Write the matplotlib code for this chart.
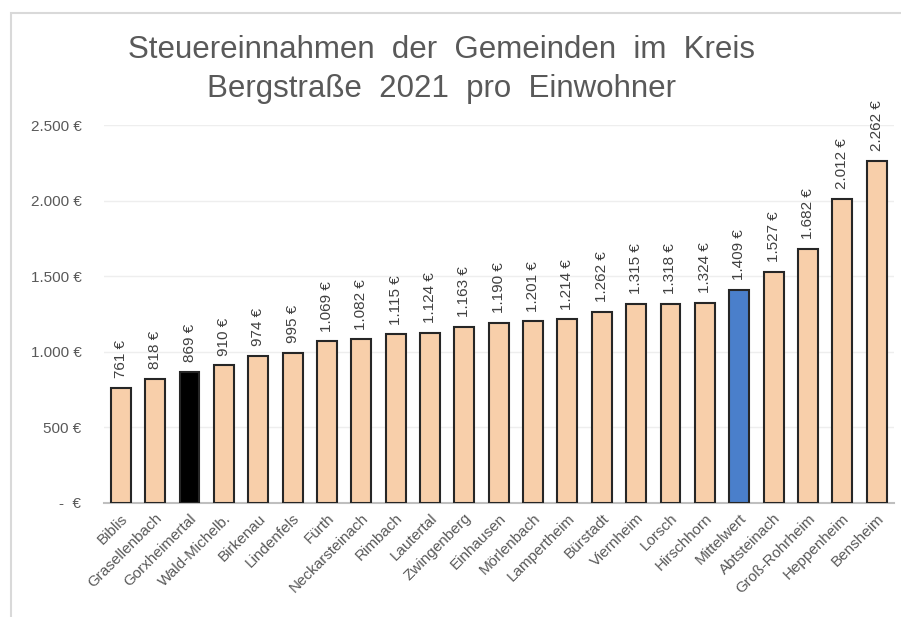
import matplotlib.pyplot as plt
from matplotlib.patches import Rectangle

# Steuereinnahmen pro Einwohner 2021
gemeinden = ['Biblis', 'Grasellenbach', 'Gorxheimertal', 'Wald-Michelb.', 'Birkenau',
             'Lindenfels', 'Fürth', 'Neckarsteinach', 'Rimbach', 'Lautertal',
             'Zwingenberg', 'Einhausen', 'Mörlenbach', 'Lampertheim', 'Bürstadt',
             'Viernheim', 'Lorsch', 'Hirschhorn', 'Mittelwert', 'Abtsteinach',
             'Groß-Rohrheim', 'Heppenheim', 'Bensheim']
werte = [761, 818, 869, 910, 974, 995, 1069, 1082, 1115, 1124, 1163, 1190, 1201,
         1214, 1262, 1315, 1318, 1324, 1409, 1527, 1682, 2012, 2262]
y_ticks = [0, 500, 1000, 1500, 2000, 2500]
y_ticklabels = ['-  €', '500 €', '1.000 €', '1.500 €', '2.000 €', '2.500 €']


def euro(v):
    return f'{v:,.0f} €'.replace(',', '.')


farben = []
for g in gemeinden:
    if g == 'Gorxheimertal':
        farben.append('#000000')
    elif g == 'Mittelwert':
        farben.append('#4a7fcb')
    else:
        farben.append('#f8cfaa')

plt.rcParams['font.family'] = ['Liberation Sans', 'DejaVu Sans']

fig = plt.figure(figsize=(9.01, 6.17), dpi=100)
fig.patches.append(Rectangle((11 / 901, -0.1), 1.2, 1.1 - 13 / 617,
                             transform=fig.transFigure, fill=False,
                             edgecolor='#d9d9d9', linewidth=1.5))
ax = fig.add_axes([0.115, 0.185, 0.877, 0.612])

x = range(len(gemeinden))
ax.bar(x, werte, width=0.58, color=farben, edgecolor='#262626', linewidth=1.5, zorder=3)

for i, v in enumerate(werte):
    ax.text(i, v + 65, euro(v), rotation=90, ha='center', va='bottom',
            fontsize=11, color='#404040', clip_on=False)

ax.set_ylim(0, 2500)
ax.set_xlim(-0.5, len(gemeinden) - 0.5)
ax.set_yticks(y_ticks)
ax.set_yticklabels(y_ticklabels, fontsize=11, color='#595959')
ax.set_xticks(list(x))
ax.set_xticklabels(gemeinden, rotation=45, ha='right', rotation_mode='anchor',
                   fontsize=11, color='#595959')
ax.tick_params(length=0, pad=16)
ax.tick_params(axis='x', pad=6)
ax.grid(axis='y', color='#eeeeee', linewidth=1, zorder=0)
for s in ['top', 'right', 'left']:
    ax.spines[s].set_visible(False)
ax.spines['bottom'].set_color('#bfbfbf')
ax.spines['bottom'].set_linewidth(1.5)

fig.text(0.49, 0.888, 'Steuereinnahmen  der  Gemeinden  im  Kreis\nBergstraße  2021  pro  Einwohner',
         ha='center', va='center', fontsize=22.5, color='#595959', linespacing=1.4)

fig.savefig('out.png', dpi=100)
